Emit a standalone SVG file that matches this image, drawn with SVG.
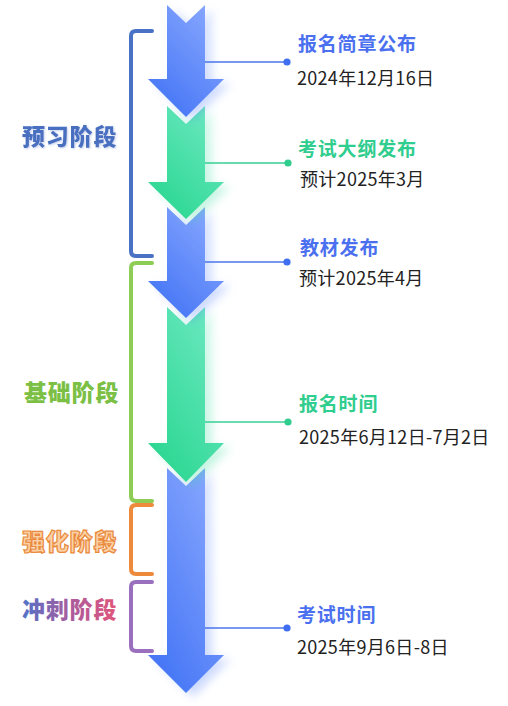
<svg xmlns="http://www.w3.org/2000/svg" width="508" height="706" viewBox="0 0 508 706">
  <defs>
    <linearGradient id="gBlue" x1="1" y1="0" x2="0.3" y2="1">
      <stop offset="0" stop-color="#8eacff"/>
      <stop offset="1" stop-color="#4676f6"/>
    </linearGradient>
    <linearGradient id="gGreen" x1="1" y1="0" x2="0.3" y2="1">
      <stop offset="0" stop-color="#72eac6"/>
      <stop offset="1" stop-color="#2cd792"/>
    </linearGradient>
    <linearGradient id="gSprint" gradientUnits="userSpaceOnUse" x1="22" y1="0" x2="118" y2="0">
      <stop offset="0" stop-color="#5272c8"/>
      <stop offset="0.5" stop-color="#a95c9e"/>
      <stop offset="1" stop-color="#e2557a"/>
    </linearGradient>
    <filter id="glow" x="-60%" y="-20%" width="220%" height="150%">
      <feGaussianBlur in="SourceGraphic" stdDeviation="5" result="b"/>
      <feOffset in="b" dx="7" dy="4" result="o"/>
      <feComponentTransfer in="o" result="s">
        <feFuncA type="linear" slope="0.3"/>
      </feComponentTransfer>
      <feMerge>
        <feMergeNode in="s"/>
        <feMergeNode in="SourceGraphic"/>
      </feMerge>
    </filter>
    <filter id="tshadow" x="-10%" y="-20%" width="120%" height="150%">
      <feGaussianBlur in="SourceAlpha" stdDeviation="1"/>
      <feOffset dx="0.5" dy="1" result="o"/>
      <feFlood flood-color="#9fb2e0" flood-opacity="0.6"/>
      <feComposite in2="o" operator="in" result="s"/>
      <feMerge>
        <feMergeNode in="s"/>
        <feMergeNode in="SourceGraphic"/>
      </feMerge>
    </filter>
  </defs>
  <style>
    .stage { font-family: "Noto Sans CJK SC", "Noto Sans", sans-serif; font-size: 23px; font-weight: 900; letter-spacing: 0.8px; }
    .bracket { fill: none; stroke-width: 4; stroke-linecap: round; stroke-linejoin: round; }
    .title { font-family: "Noto Sans CJK SC", "Noto Sans", sans-serif; font-size: 19px; font-weight: 700; letter-spacing: 0.8px; }
    .date { font-family: "Noto Sans CJK SC", "Noto Sans", sans-serif; font-size: 18px; fill: #222222; letter-spacing: 0.3px; }
    .blueT { fill: #4b70ef; }
    .greenT { fill: #2fcd8e; }
    .lineB { stroke: #4a76e8; stroke-width: 1.3; }
    .lineG { stroke: #36d193; stroke-width: 1.3; }
  </style>

  <!-- arrows -->
  <g id="arrow5" filter="url(#glow)">
    <path d="M167,468 L186,486 L205,468 L205,655 L224,655 L186,693 L148,655 L167,655 Z" fill="url(#gBlue)"/>
  </g>
  <g id="arrow4" filter="url(#glow)">
    <path d="M167,307 L186,325 L205,307 L205,443 L224,443 L186,482 L148,443 L167,443 Z" fill="url(#gGreen)"/>
  </g>
  <g id="arrow3" filter="url(#glow)">
    <path d="M167,207 L186,225 L205,207 L205,281 L224,281 L186,318 L148,281 L167,281 Z" fill="url(#gBlue)"/>
  </g>
  <g id="arrow2" filter="url(#glow)">
    <path d="M167,106 L186,124 L205,106 L205,182 L224,182 L186,219 L148,182 L167,182 Z" fill="url(#gGreen)"/>
  </g>
  <g id="arrow1" filter="url(#glow)">
    <path d="M167,5 L186,23 L205,5 L205,79 L224,79 L186,117 L148,79 L167,79 Z" fill="url(#gBlue)"/>
  </g>

  <!-- stage brackets and labels -->
  <g id="stage-preview">
    <path class="bracket" stroke="#4a72c4" d="M152,31 L136,31 Q131,31 131,36 L131,251 Q131,256 136,256 L152,256"/>
    <text class="stage" x="22" y="145" fill="#4a6fc0" filter="url(#tshadow)">预习阶段</text>
  </g>
  <g id="stage-basic">
    <path class="bracket" stroke="#8dcc55" d="M152,263 L136,263 Q131,263 131,268 L131,496 Q131,501 136,501 L152,501"/>
    <text class="stage" x="24" y="401" fill="#7cbf45">基础阶段</text>
  </g>
  <g id="stage-strengthen">
    <path class="bracket" stroke="#ee8a3c" d="M152,505 L136,505 Q131,505 131,510 L131,569 Q131,574 136,574 L152,574"/>
    <text class="stage" x="22" y="550" fill="#fbd1a4" stroke="#ea883b" stroke-width="1.2">强化阶段</text>
  </g>
  <g id="stage-sprint">
    <path class="bracket" stroke="#9a6fbd" d="M152,582 L136,582 Q131,582 131,587 L131,646 Q131,651 136,651 L152,651"/>
    <text class="stage" x="22" y="618" fill="url(#gSprint)">冲刺阶段</text>
  </g>

  <!-- connectors -->
  <g id="connectors">
    <line class="lineB" x1="205" y1="62" x2="287" y2="62"/>
    <circle cx="287" cy="62" r="3.6" fill="#3f6ff0"/>
    <line class="lineG" x1="205" y1="163" x2="288" y2="163"/>
    <circle cx="288" cy="163" r="3.6" fill="#2fcd8e"/>
    <line class="lineB" x1="205" y1="262" x2="287" y2="262"/>
    <circle cx="287" cy="262" r="3.6" fill="#3f6ff0"/>
    <line class="lineG" x1="205" y1="422" x2="288" y2="422"/>
    <circle cx="288" cy="422" r="3.6" fill="#2fcd8e"/>
    <line class="lineB" x1="205" y1="628" x2="287" y2="628" stroke="#7394ee"/>
    <circle cx="287" cy="628" r="3.6" fill="#3f6ff0"/>
  </g>

  <!-- events -->
  <g id="event1">
    <text class="title blueT" x="298" y="51">报名简章公布</text>
    <text class="date" x="297" y="85">2024年12月16日</text>
  </g>
  <g id="event2">
    <text class="title greenT" x="298" y="156">考试大纲发布</text>
    <text class="date" x="300" y="186">预计2025年3月</text>
  </g>
  <g id="event3">
    <text class="title blueT" x="300" y="255">教材发布</text>
    <text class="date" x="299" y="285">预计2025年4月</text>
  </g>
  <g id="event4">
    <text class="title greenT" x="299" y="411">报名时间</text>
    <text class="date" x="299" y="444">2025年6月12日-7月2日</text>
  </g>
  <g id="event5">
    <text class="title blueT" x="297" y="622">考试时间</text>
    <text class="date" x="297" y="654">2025年9月6日-8日</text>
  </g>
</svg>
